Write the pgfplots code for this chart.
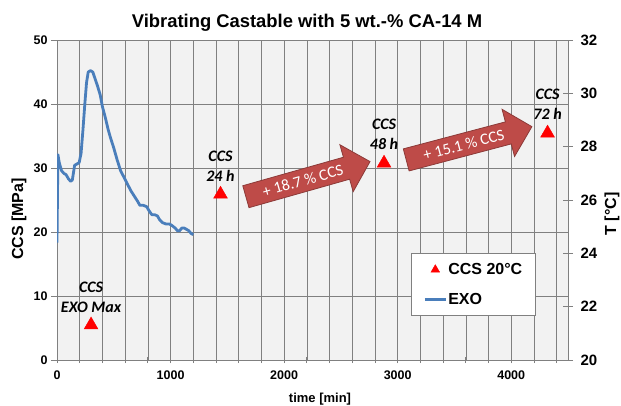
\documentclass[border=0pt]{standalone}
\usepackage{fontspec}
\setmainfont{Liberation Sans}
\newfontfamily\calibri{Carlito}
\usepackage{pgfplots}
\pgfplotsset{compat=1.18}
\usetikzlibrary{shapes.arrows}
\definecolor{exoblue}{HTML}{4A7EBB}
\definecolor{arrowred}{HTML}{BE4B48}
\definecolor{arrowdark}{HTML}{8C3A38}
\definecolor{gridgray}{HTML}{808080}
\definecolor{bggray}{HTML}{F2F2F2}
\begin{document}
\begin{tikzpicture}
\useasboundingbox (0,0) rectangle (621pt,405pt);
\begin{axis}[
  at={(57pt,45pt)}, anchor=south west, scale only axis,
  width=511pt, height=320pt,
  xmin=0, xmax=4500, ymin=0, ymax=50,
  axis lines*=left,
  xtick={0,1000,2000,3000,4000},
  minor xtick={200,400,...,4400},
  ytick={0,10,...,50},
  grid=both,
  major grid style={gridgray, line width=0.6pt},
  minor grid style={gridgray, line width=0.6pt},
  axis line style={gridgray, line width=0.8pt},
  tick style={gridgray, line width=0.8pt},
  major tick length=6pt, minor tick length=6pt,
  xtick align=center, ytick align=outside,
  axis background/.style={fill=bggray},
  scaled x ticks=false,
  /pgf/number format/1000 sep={},
  /pgf/number format/assume math mode=true,
  xticklabel={\textbf{\fontsize{12.5}{15}\selectfont\pgfmathprintnumber{\tick}}},
  yticklabel={\textbf{\fontsize{12.5}{15}\selectfont\pgfmathprintnumber{\tick}}},
  xticklabel style={yshift=-4pt},
  clip=false,
  legend image code/.code={\draw[mark repeat=2,mark phase=2,#1] plot coordinates {(0pt,0pt) (10.5pt,0pt) (21pt,0pt)};},
  legend style={at={(0.693,0.334)}, anchor=north west, draw=gray, fill=white,
    font=\bfseries\fontsize{16}{19}\selectfont, row sep=15pt,
    inner xsep=12pt, inner ysep=9pt, nodes={inner sep=1pt}},
  legend cell align=left,
]
\addplot[only marks, mark=triangle*, red, mark size=8pt, forget plot] coordinates {
  (300,5.47) (1440,25.9) (2880,30.75) (4320,35.45)
};
\addlegendimage{only marks, mark=triangle*, red, mark size=5pt}
\addlegendentry{CCS 20°C\hspace{6pt}}
\addlegendimage{exoblue, line width=3pt}
\addlegendentry{EXO}

\node[font=\calibri\bfseries\itshape\fontsize{16}{20}\selectfont, align=center, anchor=south, inner sep=0pt, yshift=12pt] at (axis cs:300,5.47) {CCS\\EXO Max};
\node[font=\calibri\bfseries\itshape\fontsize{16}{20}\selectfont, align=center, anchor=south, inner sep=0pt, yshift=13pt] at (axis cs:1440,25.9) {CCS\\24 h};
\node[font=\calibri\bfseries\itshape\fontsize{16}{20}\selectfont, align=center, anchor=south, inner sep=0pt, yshift=13pt] at (axis cs:2880,30.75) {CCS\\48 h};
\node[font=\calibri\bfseries\itshape\fontsize{16}{20}\selectfont, align=center, anchor=south, inner sep=0pt, yshift=13pt] at (axis cs:4320,35.45) {CCS\\72 h};

\path (axis cs:1660,25.5) -- (axis cs:2756,31.0)
  node[pos=0, sloped, anchor=tail, single arrow, draw=arrowdark, fill=arrowred, line width=0.8pt,
       minimum height=129pt, inner xsep=0pt, inner ysep=11pt,
       single arrow head extend=13pt, single arrow tip angle=90] {};
\path (axis cs:1660,25.5) -- (axis cs:2756,31.0)
  node[pos=0.46, sloped, text=white, font=\calibri\fontsize{16}{19}\selectfont] {+ 18.7 \% CCS};
\path (axis cs:3072,31.25) -- (axis cs:4180,36.45)
  node[pos=0, sloped, anchor=tail, single arrow, draw=arrowdark, fill=arrowred, line width=0.8pt,
       minimum height=130pt, inner xsep=0pt, inner ysep=11pt,
       single arrow head extend=13pt, single arrow tip angle=90] {};
\path (axis cs:3072,31.25) -- (axis cs:4180,36.45)
  node[pos=0.46, sloped, text=white, font=\calibri\fontsize{16}{19}\selectfont] {+ 15.1 \% CCS};
\end{axis}
\begin{axis}[
  at={(57pt,45pt)}, anchor=south west, scale only axis,
  width=511pt, height=320pt,
  xmin=0, xmax=4500, ymin=20, ymax=32,
  axis x line=none, axis y line*=right,
  ytick={20,22,...,32},
  ytick align=center,
  axis line style={gridgray, line width=0.8pt},
  tick style={gridgray, line width=0.8pt},
  major tick length=10pt,
  /pgf/number format/assume math mode=true,
  yticklabel={\textbf{\fontsize{15}{18}\selectfont\pgfmathprintnumber{\tick}}},
  yticklabel style={xshift=4pt},
]
\addplot[exoblue, line width=2.8pt, line join=round] coordinates {
(0,24.4) (8,27.7) (20,27.4) (40,27.1) (60,27.0) (80,26.95) (100,26.8) (120,26.7)
(135,26.75) (155,27.3) (175,27.35) (195,27.4) (212,27.75) (228,28.6) (245,29.6)
(260,30.4) (275,30.8) (295,30.85) (315,30.8) (335,30.55) (355,30.3) (380,29.95)
(400,29.5) (425,29.1) (450,28.65) (470,28.35) (500,27.95) (530,27.5) (560,27.1)
(590,26.85) (620,26.6) (650,26.35) (680,26.15) (710,25.95) (730,25.8) (760,25.8)
(790,25.75) (810,25.6) (835,25.45) (860,25.45) (885,25.4) (905,25.25) (930,25.15)
(960,25.1) (990,25.1) (1010,25.05) (1040,24.95) (1060,24.85) (1080,24.85)
(1100,24.95) (1120,24.95) (1140,24.9) (1160,24.85) (1180,24.75) (1200,24.7)
};
\end{axis}
\node[anchor=base, font=\bfseries\fontsize{18.4}{22}\selectfont] at (307pt,377pt) {Vibrating Castable with 5 wt.-\% CA-14 M};
\node[rotate=90, font=\bfseries\fontsize{16}{19}\selectfont] at (19pt,186pt) {CCS [MPa]};
\node[rotate=90, font=\bfseries\fontsize{16}{19}\selectfont] at (612pt,191pt) {T [°C]};
\node[anchor=base, font=\bfseries\fontsize{13}{15}\selectfont] at (320pt,3pt) {time [min]};
\end{tikzpicture}
\end{document}
